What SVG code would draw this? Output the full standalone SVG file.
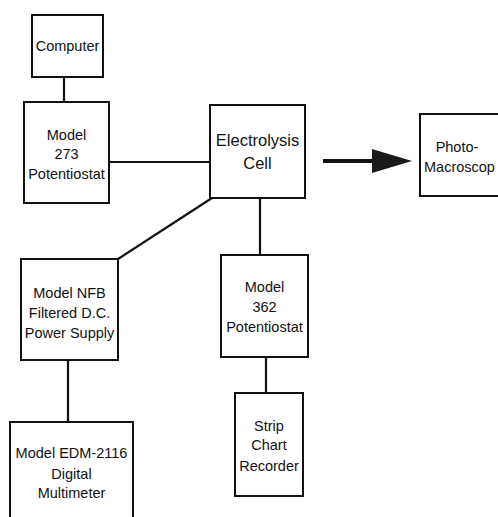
<svg xmlns="http://www.w3.org/2000/svg" width="498" height="517" viewBox="0 0 498 517">
<defs>
<style>
.box{fill:#fff;stroke:#111;stroke-width:2}
.t{font-family:"Liberation Sans",Arial,sans-serif;font-size:14.5px;fill:#111;text-anchor:middle}
.big{font-size:16.5px}
.c{stroke:#111;stroke-width:2.2;fill:none}
</style>
<marker id="ah" markerUnits="userSpaceOnUse" markerWidth="42" markerHeight="26" refX="0" refY="12" orient="auto">
<path d="M0,0 L40,12 L0,24 Z" fill="#1a1a1a"/>
</marker>
</defs>
<rect width="498" height="517" fill="#fff"/>
<g id="connectors">
<line class="c" x1="64" y1="77" x2="64" y2="102"/>
<line class="c" x1="109" y1="162" x2="210" y2="162"/>
<line class="c" x1="212" y1="198" x2="118" y2="259"/>
<line class="c" x1="68" y1="360" x2="68" y2="422"/>
<line class="c" x1="260" y1="198" x2="260" y2="255"/>
<line class="c" x1="266" y1="357" x2="266" y2="393"/>
<line x1="323" y1="161" x2="372" y2="161" stroke="#111" stroke-width="4" marker-end="url(#ah)"/>
</g>
<g id="computer">
<rect class="box" x="32" y="15" width="71" height="62"/>
<text class="t" x="67.5" y="51">Computer</text>
</g>
<g id="model273">
<rect class="box" x="24" y="102" width="85" height="101"/>
<text class="t" x="66.5" y="140">Model</text>
<text class="t" x="66.5" y="159">273</text>
<text class="t" x="66.5" y="179">Potentiostat</text>
</g>
<g id="electrolysis">
<rect class="box" x="210" y="105" width="95" height="93"/>
<text class="t big" x="257.5" y="146">Electrolysis</text>
<text class="t big" x="257.5" y="169">Cell</text>
</g>
<g id="photomacroscope">
<rect class="box" x="420" y="114" width="90" height="82"/>
<text class="t" x="457" y="152">Photo-</text>
<text class="t" x="424" y="172" style="text-anchor:start">Macroscop</text>
</g>
<g id="nfb">
<rect class="box" x="21" y="259" width="97" height="101"/>
<text class="t" x="69.5" y="298">Model NFB</text>
<text class="t" x="69.5" y="318">Filtered D.C.</text>
<text class="t" x="69.5" y="338">Power Supply</text>
</g>
<g id="edm">
<rect class="box" x="10" y="422" width="123" height="110"/>
<text class="t" x="71.5" y="458">Model EDM-2116</text>
<text class="t" x="71.5" y="479">Digital</text>
<text class="t" x="71.5" y="498">Multimeter</text>
</g>
<g id="model362">
<rect class="box" x="221" y="255" width="87" height="102"/>
<text class="t" x="264.5" y="292">Model</text>
<text class="t" x="264.5" y="312">362</text>
<text class="t" x="264.5" y="332">Potentiostat</text>
</g>
<g id="strip">
<rect class="box" x="235" y="393" width="68" height="103"/>
<text class="t" x="269" y="431">Strip</text>
<text class="t" x="269" y="450">Chart</text>
<text class="t" x="269" y="471">Recorder</text>
</g>
</svg>
